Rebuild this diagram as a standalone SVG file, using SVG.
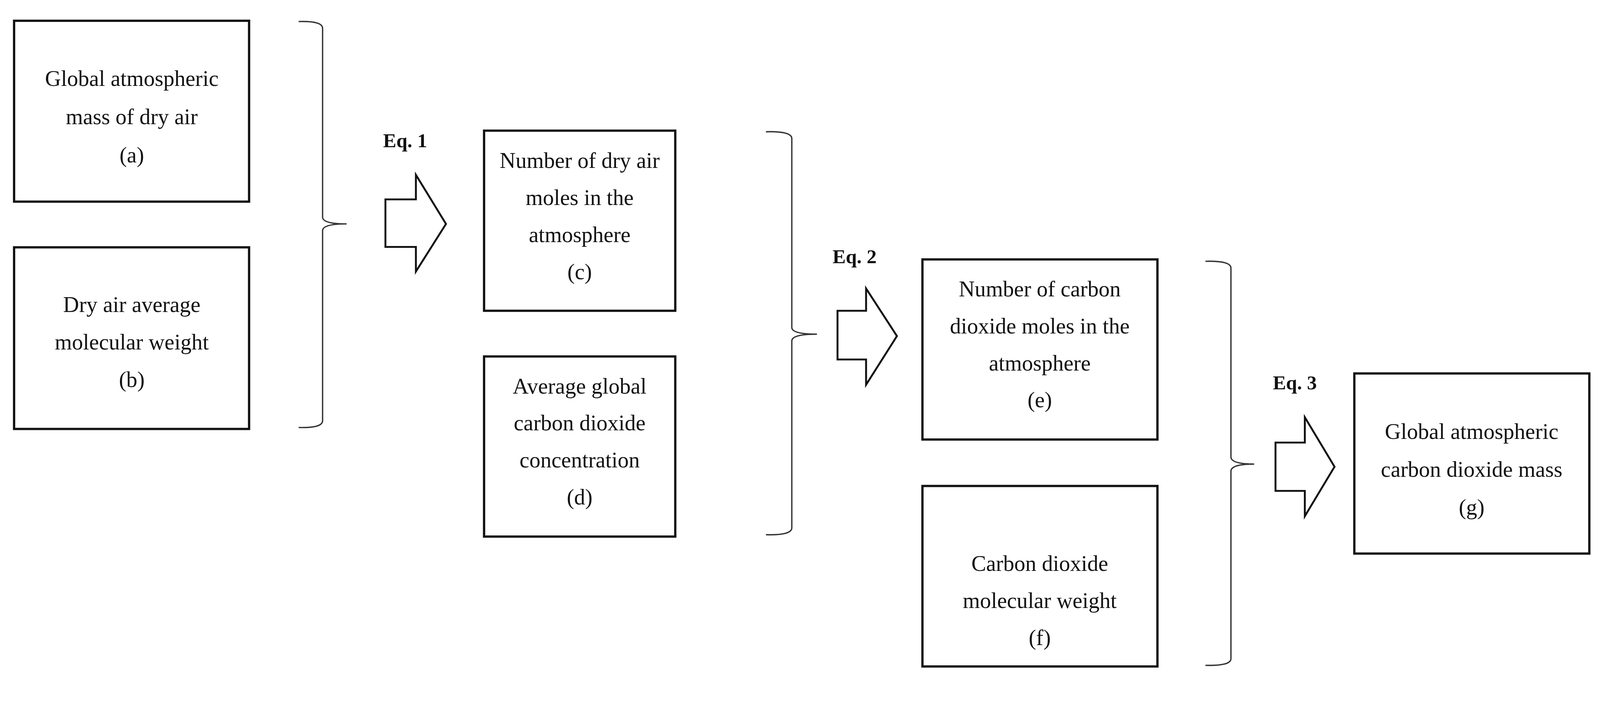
<svg xmlns="http://www.w3.org/2000/svg" width="4205" height="1808" viewBox="0 0 4205 1808">
<style>
.box{fill:#fff;stroke:#111;stroke-width:6}
.t{font-family:"Liberation Serif",serif;font-size:58px;text-anchor:middle;fill:#111}
.eq{font-family:"Liberation Serif",serif;font-size:52px;font-weight:bold;fill:#111}
.br{fill:none;stroke:#333;stroke-width:3.5}
.ar{fill:#fff;stroke:#111;stroke-width:5;stroke-linejoin:miter}
</style>
<rect width="4205" height="1808" fill="#fff"/>
<g id="diagram" transform="scale(0.975 0.967)">
<g id="a"><rect class="box" x="37" y="55" width="617" height="479"/>
<text class="t" x="346" y="228">Global atmospheric</text><text class="t" x="346" y="329">mass of dry air</text><text class="t" x="346" y="430">(a)</text></g>
<g id="b"><rect class="box" x="37" y="655" width="617" height="481"/>
<text class="t" x="346" y="826">Dry air average</text><text class="t" x="346" y="926">molecular weight</text><text class="t" x="346" y="1025">(b)</text></g>
<g id="c"><rect class="box" x="1271" y="346" width="502" height="477"/>
<text class="t" x="1522" y="445">Number of dry air</text><text class="t" x="1522" y="543">moles in the</text><text class="t" x="1522" y="641">atmosphere</text><text class="t" x="1522" y="739">(c)</text></g>
<g id="d"><rect class="box" x="1271" y="944" width="502" height="477"/>
<text class="t" x="1522" y="1042">Average global</text><text class="t" x="1522" y="1140">carbon dioxide</text><text class="t" x="1522" y="1238">concentration</text><text class="t" x="1522" y="1336">(d)</text></g>
<g id="e"><rect class="box" x="2422" y="687" width="617" height="477"/>
<text class="t" x="2730" y="785">Number of carbon</text><text class="t" x="2730" y="883">dioxide moles in the</text><text class="t" x="2730" y="981">atmosphere</text><text class="t" x="2730" y="1079">(e)</text></g>
<g id="f"><rect class="box" x="2422" y="1287" width="617" height="478"/>
<text class="t" x="2730" y="1512">Carbon dioxide</text><text class="t" x="2730" y="1610">molecular weight</text><text class="t" x="2730" y="1708">(f)</text></g>
<g id="g"><rect class="box" x="3556" y="989" width="617" height="477"/>
<text class="t" x="3864" y="1162">Global atmospheric</text><text class="t" x="3864" y="1263">carbon dioxide mass</text><text class="t" x="3864" y="1363">(g)</text></g>
<g id="connectors">
<path class="br" d="M784,57 Q847,55 847,75 L847,575 Q847,593 910,593 M847,1114 Q847,1134 784,1132 M847,1114 L847,611 Q847,593 910,593"/>
<path class="br" d="M2011,349 Q2079,347 2079,367 L2079,867 Q2079,885 2145,885 M2079,1398 Q2079,1418 2011,1416 M2079,1398 L2079,903 Q2079,885 2145,885"/>
<path class="br" d="M3165,692 Q3232,690 3232,710 L3232,1210 Q3232,1229 3293,1229 M3232,1744 Q3232,1764 3165,1762 M3232,1744 L3232,1248 Q3232,1229 3293,1229"/>
<path class="ar" d="M1012,528 L1092,528 L1092,463 L1171,593 L1092,719 L1092,654 L1012,654 Z"/>
<path class="ar" d="M2199,823 L2274,823 L2274,764 L2355,890 L2274,1019 L2274,952 L2199,952 Z"/>
<path class="ar" d="M3349,1172 L3426,1172 L3426,1105 L3504,1236 L3426,1367 L3426,1300 L3349,1300 Z"/>
<text class="eq" x="1006" y="390">Eq. 1</text>
<text class="eq" x="2186" y="697">Eq. 2</text>
<text class="eq" x="3342" y="1031">Eq. 3</text>
</g>
</g>
</svg>
